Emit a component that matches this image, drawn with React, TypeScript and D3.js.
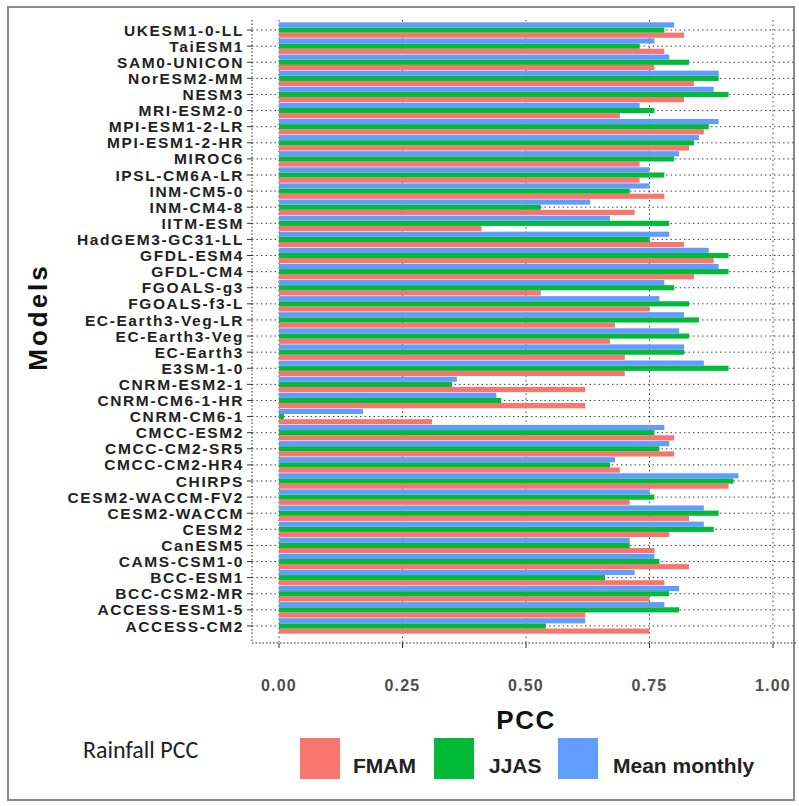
import React from "react";
import * as d3 from "d3";

const models = [
  "UKESM1-0-LL", "TaiESM1", "SAM0-UNICON", "NorESM2-MM", "NESM3", "MRI-ESM2-0",
  "MPI-ESM1-2-LR", "MPI-ESM1-2-HR", "MIROC6", "IPSL-CM6A-LR", "INM-CM5-0", "INM-CM4-8",
  "IITM-ESM", "HadGEM3-GC31-LL", "GFDL-ESM4", "GFDL-CM4", "FGOALS-g3", "FGOALS-f3-L",
  "EC-Earth3-Veg-LR", "EC-Earth3-Veg", "EC-Earth3", "E3SM-1-0", "CNRM-ESM2-1",
  "CNRM-CM6-1-HR", "CNRM-CM6-1", "CMCC-ESM2", "CMCC-CM2-SR5", "CMCC-CM2-HR4", "CHIRPS",
  "CESM2-WACCM-FV2", "CESM2-WACCM", "CESM2", "CanESM5", "CAMS-CSM1-0", "BCC-ESM1",
  "BCC-CSM2-MR", "ACCESS-ESM1-5", "ACCESS-CM2",
];

const fmam = [0.82, 0.78, 0.76, 0.84, 0.82, 0.69, 0.86, 0.83, 0.73, 0.73, 0.78, 0.72, 0.41, 0.82, 0.88, 0.84, 0.53, 0.75, 0.68, 0.67, 0.70, 0.70, 0.62, 0.62, 0.31, 0.80, 0.80, 0.69, 0.91, 0.71, 0.83, 0.79, 0.76, 0.83, 0.78, 0.75, 0.62, 0.75];
const jjas = [0.78, 0.73, 0.83, 0.89, 0.91, 0.76, 0.87, 0.84, 0.80, 0.78, 0.71, 0.53, 0.79, 0.75, 0.91, 0.91, 0.80, 0.83, 0.85, 0.83, 0.82, 0.91, 0.35, 0.45, 0.01, 0.76, 0.77, 0.67, 0.92, 0.76, 0.89, 0.88, 0.71, 0.77, 0.66, 0.79, 0.81, 0.54];
const meanMonthly = [0.80, 0.76, 0.79, 0.89, 0.88, 0.73, 0.89, 0.85, 0.81, 0.75, 0.75, 0.63, 0.67, 0.79, 0.87, 0.89, 0.78, 0.77, 0.82, 0.81, 0.82, 0.86, 0.36, 0.44, 0.17, 0.78, 0.79, 0.68, 0.93, 0.75, 0.86, 0.86, 0.71, 0.76, 0.72, 0.81, 0.78, 0.62];

const seriesNames = ["FMAM", "JJAS", "Mean monthly"];
const seriesColors = ["#F8766D", "#00BA38", "#619CFF"];
const xTicks = [0, 0.25, 0.5, 0.75, 1.0];

const W = 799;
const H = 806;

export default function App() {
  const x = d3.scaleLinear().domain([0, 1]).range([279, 773]);
  const y = d3.scaleBand<string>().domain(models).range([22, 634]).padding(0);
  // within a row: top = Mean monthly, middle = JJAS, bottom = FMAM
  const inner = d3
    .scaleBand<string>()
    .domain(["Mean monthly", "JJAS", "FMAM"])
    .range([0, y.bandwidth()])
    .paddingInner(0)
    .paddingOuter(0.06);
  const values = [fmam, jjas, meanMonthly];

  const axisLeftX = 252;
  const panelRight = 796;
  const axisBottomY = 643;
  const font = "'Liberation Sans', Arial, sans-serif";

  const legendItems = [
    { x: 300, tx: 353 },
    { x: 434, tx: 489 },
    { x: 558, tx: 613 },
  ];

  return (
    <svg width={W} height={H} style={{ position: "absolute", left: 0, top: 0, background: "#fff" }}>
      <rect x={8} y={7} width={786} height={793} fill="#fff" stroke="#8a8a8a" strokeWidth={2} />

      {/* vertical grid */}
      {xTicks.map((t) => (
        <line key={"vg" + t} x1={x(t)} x2={x(t)} y1={20} y2={axisBottomY} stroke="#444" strokeWidth={1} strokeDasharray="1.5,3" />
      ))}
      {/* horizontal grid */}
      {models.map((m) => (
        <line key={"hg" + m} x1={axisLeftX} x2={panelRight} y1={(y(m) as number) + y.bandwidth() / 2} y2={(y(m) as number) + y.bandwidth() / 2} stroke="#444" strokeWidth={1} strokeDasharray="1.5,3" />
      ))}

      {/* bars */}
      {seriesNames.map((s, si) =>
        models.map((m, i) => (
          <rect
            key={s + m}
            x={x(0)}
            y={(y(m) as number) + (inner(s) as number)}
            width={x(values[si][i]) - x(0)}
            height={inner.bandwidth()}
            fill={seriesColors[si]}
          />
        ))
      )}

      {/* axes */}
      <line x1={axisLeftX} x2={axisLeftX} y1={20} y2={axisBottomY} stroke="#222" strokeWidth={1} strokeDasharray="1.5,2" />
      <line x1={axisLeftX} x2={panelRight} y1={axisBottomY} y2={axisBottomY} stroke="#222" strokeWidth={1} strokeDasharray="1.5,2" />
      {models.map((m) => {
        const cy = (y(m) as number) + y.bandwidth() / 2;
        return (
          <g key={"yl" + m}>
            <line x1={axisLeftX - 5} x2={axisLeftX} y1={cy} y2={cy} stroke="#333" strokeWidth={1} />
            <text x={axisLeftX - 8} y={cy} dy="0.36em" textAnchor="end" fontFamily={font} fontWeight="bold" fontSize={15.5} letterSpacing={1.6} fill="#222">
              {m}
            </text>
          </g>
        );
      })}
      {xTicks.map((t) => (
        <g key={"xl" + t}>
          <line x1={x(t)} x2={x(t)} y1={axisBottomY} y2={axisBottomY + 5} stroke="#333" strokeWidth={1} />
          <text x={x(t)} y={691} textAnchor="middle" fontFamily={font} fontWeight="bold" fontSize={16} letterSpacing={1.2} fill="#4d4d4d">
            {d3.format(".2f")(t)}
          </text>
        </g>
      ))}

      {/* axis titles */}
      <text x={526} y={729} textAnchor="middle" fontFamily={font} fontWeight="bold" fontSize={26} letterSpacing={1.5} fill="#111">
        PCC
      </text>
      <text transform="translate(47,317) rotate(-90)" textAnchor="middle" fontFamily={font} fontWeight="bold" fontSize={26} letterSpacing={3} fill="#111">
        Models
      </text>

      {/* legend */}
      <text x={83} y={758} fontFamily="Carlito, Calibri, 'Liberation Sans', sans-serif" fontSize={24} fill="#222">
        Rainfall PCC
      </text>
      {legendItems.map((p, i) => (
        <g key={"lg" + i}>
          <rect x={p.x} y={738} width={40} height={41} fill={seriesColors[i]} />
          <text x={p.tx} y={773} fontFamily={font} fontWeight="bold" fontSize={21} fill="#222">
            {seriesNames[i]}
          </text>
        </g>
      ))}
    </svg>
  );
}
